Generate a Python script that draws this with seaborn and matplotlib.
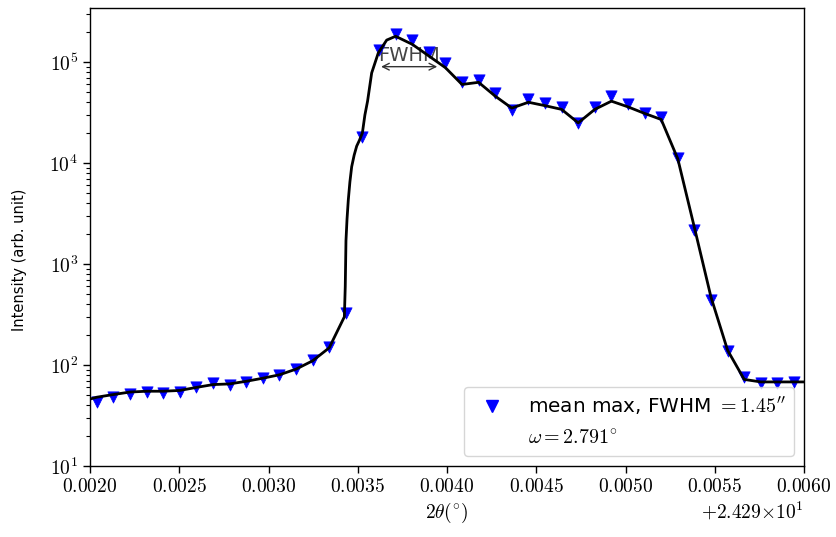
import matplotlib
matplotlib.use("Agg")
import matplotlib.pyplot as plt
import seaborn as sns
import pandas as pd
from matplotlib.lines import Line2D
from matplotlib.ticker import ScalarFormatter

sns.set_theme(style="ticks")
plt.rcParams.update({
    "font.family": ["cmr10"],
    "mathtext.fontset": "cm",
    "axes.formatter.use_mathtext": True,
    "axes.edgecolor": "black",
    "axes.linewidth": 1.0,
    "xtick.color": "black",
    "ytick.color": "black",
    "axes.labelcolor": "black",
    "text.color": "black",
})

# ---- data (2theta given relative to the offset 24.29 deg) ----
OFFSET = 24.29
marker_dx = [0.002038, 0.002131, 0.002224, 0.002317, 0.002410, 0.002503, 0.002596,
             0.002689, 0.002782, 0.002875, 0.002968, 0.003061, 0.003154, 0.003247,
             0.003340, 0.003433, 0.003526, 0.003619, 0.003712, 0.003805, 0.003898,
             0.003991, 0.004084, 0.004177, 0.004270, 0.004363, 0.004456, 0.004549,
             0.004642, 0.004735, 0.004828, 0.004921, 0.005014, 0.005107, 0.005200,
             0.005293, 0.005386, 0.005479, 0.005572, 0.005665, 0.005758, 0.005851,
             0.005944]
marker_int = [43.4, 48.5, 51.6, 54.5, 52.5, 54.5, 60, 65.9, 63, 67.5, 73.8, 79.5,
              90.6, 112, 152, 324, 18200, 131000, 190000, 166000, 126000, 98000,
              63000, 67000, 49000, 33500, 42700, 39500, 36000, 25000, 36000, 46000,
              38000, 31000, 28700, 11100, 2170, 440, 138, 75.5, 66, 67, 68]

curve_dx = [0.002000, 0.002038, 0.002131, 0.002224, 0.002317, 0.002410, 0.002503,
            0.002596, 0.002689, 0.002782, 0.002875, 0.002968, 0.003061, 0.003154,
            0.003247, 0.003340, 0.003425, 0.003430, 0.003432, 0.003434, 0.003440,
            0.003447, 0.003456, 0.003466, 0.003480, 0.003494, 0.003510, 0.003526,
            0.003540, 0.003555, 0.003578, 0.003615, 0.003662, 0.003712,
            0.003805, 0.003898, 0.003991, 0.004084, 0.004177, 0.004270, 0.004363,
            0.004456, 0.004549, 0.004642, 0.004735, 0.004828, 0.004921, 0.005014,
            0.005107, 0.005200, 0.005293, 0.005386, 0.005479, 0.005572, 0.005665,
            0.005758, 0.005851, 0.005944, 0.006000]
curve_int = [46, 48, 51, 54, 55, 55, 56, 60, 64, 65, 69, 74, 80,
             91, 110, 148, 300, 600, 1000, 1700, 2800,
             4300, 6500, 9200, 12000, 14700, 16900, 19900,
             29900, 41000, 78000, 123000, 165000, 180000,
             150000, 115000, 88000, 60000, 63000, 46000, 35000,
             40000, 37000, 34000, 25000, 34000, 41000, 36000,
             31000, 27000, 11000, 2300, 470, 140, 72,
             68, 68, 68, 68]

legend_labels = ["mean max, FWHM $= 1.45''$", r"$\omega = 2.791^{\circ}$"]


class CompactOffsetFormatter(ScalarFormatter):
    def get_offset(self):
        return super().get_offset().replace(r"\times", r"{\times}")


markers = pd.DataFrame({"x": [OFFSET + v for v in marker_dx], "y": marker_int})
curve = pd.DataFrame({"x": [OFFSET + v for v in curve_dx], "y": curve_int})

fig = plt.figure(figsize=(8.37, 5.37), dpi=100)
ax = fig.add_axes([90 / 837, 1 - 466 / 537, (804 - 90) / 837, (466 - 8) / 537])

sns.scatterplot(data=markers, x="x", y="y", marker="v", s=66, color="blue",
                edgecolor="blue", linewidth=0.5, ax=ax, zorder=2, legend=False)
sns.lineplot(data=curve, x="x", y="y", color="black", lw=2.0, ax=ax,
             estimator=None, sort=False, zorder=3, legend=False)

ax.set_yscale("log")
ax.set_ylim(10, 3.43e5)
ax.set_xlim(OFFSET + 0.002, OFFSET + 0.006)

ax.xaxis.set_major_formatter(CompactOffsetFormatter(useOffset=OFFSET, useMathText=True))

ax.tick_params(axis="both", which="major", labelsize=14, length=5, width=1)
ax.tick_params(axis="y", which="minor", length=3, width=0.8)
ax.xaxis.get_offset_text().set_fontsize(14)

ax.set_xlabel(r"$2\theta(^{\circ})$", fontsize=14, labelpad=4)
ax.set_ylabel("Intensity (arb. unit)", fontsize=10.5, family="DejaVu Sans")
ax.yaxis.set_label_coords(-0.088, 0.45)

# FWHM annotation
half_max = 9.0e4
x_left, x_right = OFFSET + 0.003615, OFFSET + 0.003961
ax.annotate("", xy=(x_left, half_max), xytext=(x_right, half_max),
            arrowprops=dict(arrowstyle="<->", color="#333333", lw=1.0), zorder=1)
ax.text((x_left + x_right) / 2, half_max * 1.04, "FWHM", ha="center", va="bottom",
        fontsize=14, color="#444444", zorder=1, family="DejaVu Sans")

handles = [Line2D([], [], ls="none", marker="v", color="blue", ms=8.1),
           Line2D([], [], ls="none", marker=None)]
ax.legend(handles, legend_labels, loc="lower right", framealpha=0.8,
          labelspacing=0.6, prop={"family": "DejaVu Sans", "size": 14.4})

fig.savefig("out.png", dpi=100)
